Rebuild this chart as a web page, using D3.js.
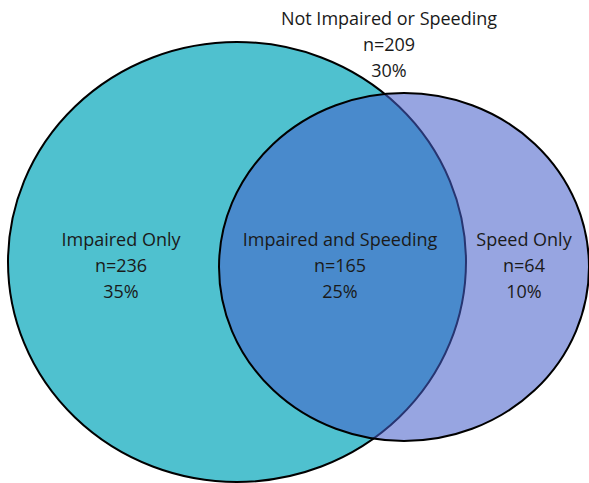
<!DOCTYPE html>
<html><head><meta charset="utf-8">
<script src="https://cdn.jsdelivr.net/npm/d3@7/dist/d3.min.js"></script>
<style>body{margin:0;background:#fff}svg{display:block}</style>
</head><body>
<script>
const sets = ["Impaired", "Speeding"];
const regionLabels = ["Impaired Only", "Impaired and Speeding", "Speed Only", "Not Impaired or Speeding"];
const regionN = [236, 165, 64, 209];
const regionPct = ["35%", "25%", "10%", "30%"];

const W = 589, H = 483;
const svg = d3.select("body").append("svg").attr("width", W).attr("height", H);

// layout of the two sets (ellipses as drawn in reference)
const shapes = [
  {set: sets[0], cx: 237, cy: 262, rx: 229, ry: 220, fill: "#4FC1CF", op: 1},
  {set: sets[1], cx: 404, cy: 267, rx: 185, ry: 174, fill: "rgb(70,95,202)", op: 0.56}
];
svg.selectAll("ellipse").data(shapes).join("ellipse")
  .attr("cx", d => d.cx).attr("cy", d => d.cy)
  .attr("rx", d => d.rx).attr("ry", d => d.ry)
  .attr("fill", d => d.fill).attr("fill-opacity", d => d.op)
  .attr("stroke", "#000").attr("stroke-width", 2);

const labelPos = [[121, 240], [340, 240], [524, 240], [389, 19]];
const lineH = 26;
const g = svg.selectAll("text.lbl").data(regionLabels).join("text")
  .attr("class", "lbl")
  .attr("text-anchor", "middle")
  .attr("font-family", "'Open Sans', sans-serif")
  .attr("font-size", 18)
  .attr("fill", "#1a1a1a");
g.each(function(d, i) {
  const t = d3.select(this);
  const [x, y] = labelPos[i];
  [d, "n=" + regionN[i], regionPct[i]].forEach((s, k) => {
    t.append("tspan").attr("x", x).attr("y", y + k * lineH).attr("dy", "0.35em").text(s);
  });
});
</script>
</body></html>
